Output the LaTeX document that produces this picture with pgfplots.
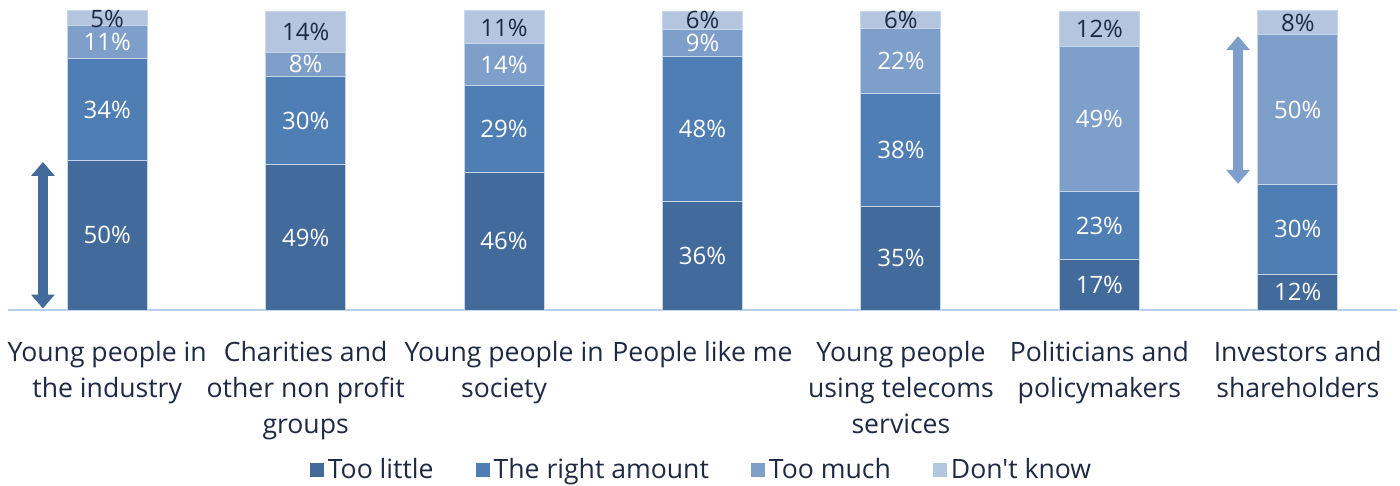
\documentclass[border=0pt]{standalone}
\usepackage{fontspec}
\setmainfont{Open Sans}[Ligatures=TeXOff]
\usepackage{pgfplots}
\usepackage{pgfplotstable}
\pgfplotsset{compat=1.18}
\usetikzlibrary{arrows.meta}
\definecolor{cA}{RGB}{66,106,155}
\definecolor{cB}{RGB}{79,126,181}
\definecolor{cC}{RGB}{127,159,203}
\definecolor{cD}{RGB}{180,197,224}
\definecolor{txt}{RGB}{30,42,68}
\definecolor{axl}{RGB}{180,207,240}
\definecolor{edge}{RGB}{200,214,234}
% a-d: bar heights of the 100% stacked chart; la-ld: printed labels
\pgfplotstableread{
x a     b     c     d     la lb lc ld
0 50    34    11    5     50 34 11 5
1 48.51 29.70 7.92  13.86 49 30 8  14
2 46    29    14    11    46 29 14 11
3 36.36 48.48 9.09  6.06  36 48 9  6
4 34.65 37.62 21.78 5.94  35 38 22 6
5 16.83 22.77 48.51 11.88 17 23 49 12
6 12    30    50    8     12 30 50 8
}\data
\begin{document}
\begin{tikzpicture}
\useasboundingbox (-4pt,-88pt) rectangle (696pt,155pt);
\begin{axis}[
  at={(0pt,0pt)}, anchor=south west,
  scale only axis, width=694.5pt, height=149.5pt,
  xmin=-0.5, xmax=6.5, ymin=0, ymax=100,
  ybar stacked, bar width=40pt,
  axis y line=none, axis x line*=bottom,
  x axis line style={-, draw=axl, line width=1pt},
  xtick={0,1,2,3,4,5,6},
  xticklabels={{Young people in\\the industry},{Charities and\\other non profit\\groups},{Young people in\\society},{People like me},{Young people\\using telecoms\\services},{Politicians and\\policymakers},{Investors and\\shareholders}},
  major tick length=0pt,
  xticklabel style={font=\fontsize{13.3}{18}\selectfont, text=txt, align=center, inner sep=0pt, anchor=north, yshift=-15.5pt},
  clip=false,
  nodes near coords={\pgfplotspointmeta\%},
  every node near coord/.append style={font=\fontsize{12}{14}\selectfont, anchor=center},
  legend style={at={(0.5,-0.535)}, anchor=center, draw=none, fill=none, font=\fontsize{13.3}{16}\selectfont, text=txt, legend columns=-1, /tikz/every even column/.append style={column sep=19pt}},
  legend image code/.code={\draw[#1, draw=none] (0pt,-3.5pt) rectangle (7pt,3.5pt);},
]
\addplot[fill=cA, draw=edge, line width=0.5pt, point meta=explicit symbolic, every node near coord/.append style={text=white}] table[x=x, y=a, meta=la] {\data};
\addplot[fill=cB, draw=edge, line width=0.5pt, point meta=explicit symbolic, every node near coord/.append style={text=white}] table[x=x, y=b, meta=lb] {\data};
\addplot[fill=cC, draw=edge, line width=0.5pt, point meta=explicit symbolic, every node near coord/.append style={text=white}] table[x=x, y=c, meta=lc] {\data};
\addplot[fill=cD, draw=edge, line width=0.5pt, point meta=explicit symbolic, every node near coord/.append style={text=txt}] table[x=x, y=d, meta=ld] {\data};
\legend{Too little, The right amount, Too much, Don't know}
\draw[cA, line width=5pt, {Triangle[width=11.5pt,length=7pt]}-{Triangle[width=11.5pt,length=7pt]}] (axis cs:-0.324,0.5) -- (axis cs:-0.324,49.5);
\draw[cC, line width=5pt, {Triangle[width=11.5pt,length=7pt]}-{Triangle[width=11.5pt,length=7pt]}] (axis cs:5.699,42.2) -- (axis cs:5.699,91.6);
\end{axis}
\end{tikzpicture}
\end{document}
